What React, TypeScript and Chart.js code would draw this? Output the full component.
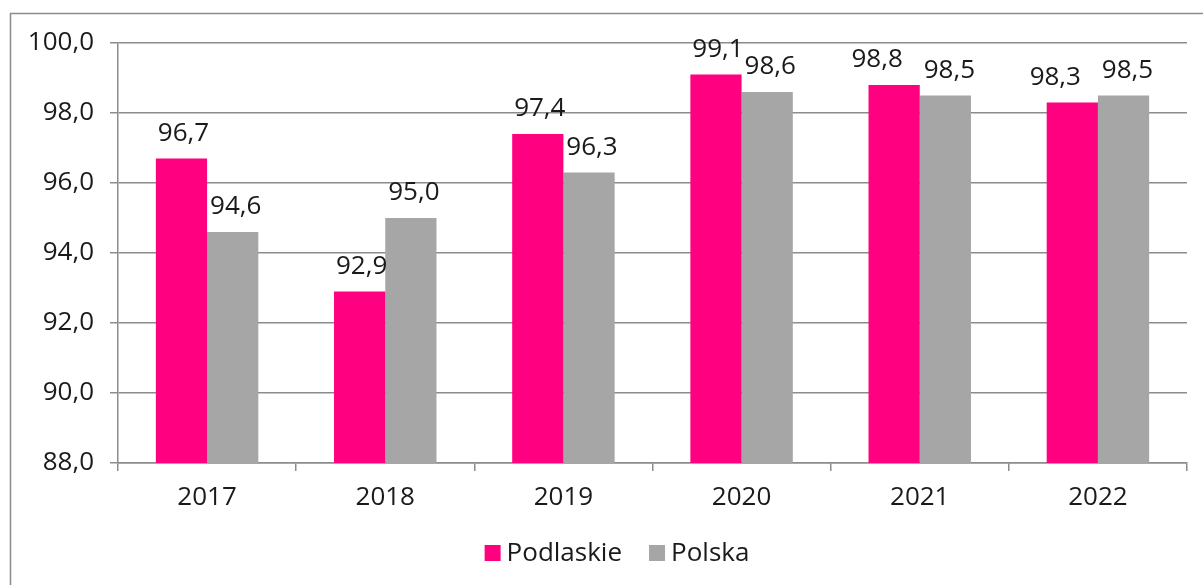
import React, { useEffect, useRef } from "react";
import { Chart, registerables } from "chart.js";

Chart.register(...registerables);

const categories = ["2017", "2018", "2019", "2020", "2021", "2022"];
const podlaskie = [96.7, 92.9, 97.4, 99.1, 98.8, 98.3];
const polska = [94.6, 95.0, 96.3, 98.6, 98.5, 98.5];
const seriesNames = ["Podlaskie", "Polska"];
const seriesColors = ["#FF0080", "#A6A6A6"];
const yMin = 88;
const yMax = 100;
const yStep = 2;

const FONT = "'Open Sans', sans-serif";
const FSIZE = 26;
const fmt = (v: number) => v.toFixed(1).replace(".", ",");

const frame = {
  id: "frame",
  beforeDraw(chart: any) {
    const ctx = chart.ctx;
    ctx.save();
    ctx.fillStyle = "#ffffff";
    ctx.fillRect(0, 0, chart.width, chart.height);
    ctx.strokeStyle = "#8c8c8c";
    ctx.lineWidth = 1.5;
    ctx.beginPath();
    ctx.moveTo(10.5, chart.height + 5);
    ctx.lineTo(10.5, 13.5);
    ctx.lineTo(chart.width + 5, 13.5);
    ctx.stroke();
    ctx.restore();
  },
};

// value labels above bars; when the two labels of a category would collide,
// push them apart horizontally (as the original spreadsheet did)
const labels = {
  id: "valueLabels",
  afterDatasetsDraw(chart: any) {
    const ctx = chart.ctx;
    ctx.save();
    ctx.font = `${FSIZE}px ${FONT}`;
    ctx.fillStyle = "#1a1a1a";
    ctx.textAlign = "center";
    ctx.textBaseline = "alphabetic";
    const m0 = chart.getDatasetMeta(0);
    const m1 = chart.getDatasetMeta(1);
    chart.data.labels.forEach((_: any, j: number) => {
      const b0 = m0.data[j];
      const b1 = m1.data[j];
      const collide = Math.abs(b0.y - b1.y) < 16;
      const dx0 = collide ? -17 : 2;
      const dx1 = collide ? 4 : 3;
      ctx.fillText(fmt(chart.data.datasets[0].data[j]), b0.x + dx0, b0.y - 18);
      ctx.fillText(fmt(chart.data.datasets[1].data[j]), b1.x + dx1, b1.y - 18);
    });
    ctx.restore();
  },
};

const customLegend = {
  id: "customLegend",
  afterDraw(chart: any) {
    const ctx = chart.ctx;
    ctx.save();
    ctx.font = `${FSIZE}px ${FONT}`;
    const box = 16;
    const gap = 6;
    const itemGap = 27;
    const widths = chart.data.datasets.map((d: any) => ctx.measureText(d.label).width);
    const total = widths.reduce((a: number, w: number) => a + box + gap + w, 0) + itemGap * (widths.length - 1);
    let x = 617 - total / 2;
    const cy = 553;
    chart.data.datasets.forEach((d: any, i: number) => {
      ctx.fillStyle = d.backgroundColor;
      ctx.fillRect(x, cy - box / 2, box, box);
      x += box + gap;
      ctx.fillStyle = "#1a1a1a";
      ctx.textAlign = "left";
      ctx.textBaseline = "middle";
      ctx.fillText(d.label, x, cy + 1);
      x += widths[i] + itemGap;
    });
    ctx.restore();
  },
};

export default function App() {
  const ref = useRef<HTMLCanvasElement>(null);
  useEffect(() => {
    if (!ref.current) return;
    const chart = new Chart(ref.current, {
      type: "bar",
      data: {
        labels: categories,
        datasets: [
          { label: seriesNames[0], data: podlaskie, backgroundColor: seriesColors[0] },
          { label: seriesNames[1], data: polska, backgroundColor: seriesColors[1] },
        ],
      },
      options: {
        animation: false,
        responsive: false,
        events: [],
        layout: { padding: { left: 10, top: 43, right: 16, bottom: 62 } },
        datasets: {
          bar: { categoryPercentage: 0.575, barPercentage: 1 },
        } as any,
        scales: {
          x: {
            grid: {
              display: true,
              drawOnChartArea: false,
              drawTicks: true,
              tickLength: 8,
              color: "#8c8c8c",
              lineWidth: 1.5,
              offset: true,
            },
            border: { display: true, color: "#8c8c8c", width: 1.5 },
            ticks: {
              color: "#1a1a1a",
              font: { family: FONT, size: FSIZE },
              padding: 11,
            },
            afterFit(scale: any) {
              scale.height = 60;
            },
          },
          y: {
            min: yMin,
            max: yMax,
            ticks: {
              stepSize: yStep,
              color: "#1a1a1a",
              font: { family: FONT, size: FSIZE },
              padding: 16,
              callback: (v: any) => fmt(Number(v)),
            },
            grid: {
              color: "#8c8c8c",
              lineWidth: 1.5,
              drawTicks: true,
              tickLength: 8,
            },
            border: { display: true, color: "#8c8c8c", width: 1.5 },
            afterFit(scale: any) {
              scale.width = 108;
            },
          },
        },
        plugins: {
          legend: { display: false },
          tooltip: { enabled: false },
        },
      },
      plugins: [frame, labels, customLegend],
    });
    return () => chart.destroy();
  }, []);
  return (
    <div style={{ position: "fixed", left: 0, top: 0, width: 1203, height: 585 }}>
      <canvas ref={ref} width={1203} height={585} style={{ display: "block" }} />
    </div>
  );
}
